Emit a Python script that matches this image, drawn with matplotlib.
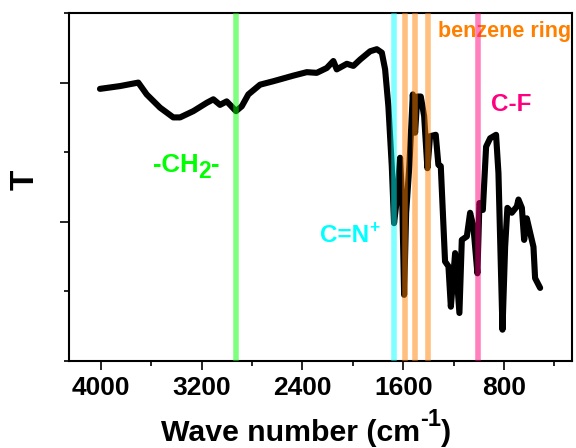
import matplotlib
matplotlib.use("Agg")
import matplotlib.pyplot as plt
from matplotlib.ticker import MultipleLocator
from matplotlib.transforms import offset_copy

plt.rcParams['font.family'] = ['Liberation Sans', 'DejaVu Sans']
plt.rcParams['font.weight'] = 'bold'
plt.rcParams['mathtext.fontset'] = 'custom'
plt.rcParams['mathtext.rm'] = 'Liberation Sans:bold'
plt.rcParams['mathtext.bf'] = 'Liberation Sans:bold'
plt.rcParams['mathtext.it'] = 'Liberation Sans:bold'
plt.rcParams['mathtext.default'] = 'bf'

# FTIR spectrum (wave number in cm^-1, transmittance in arbitrary units)
wavenumber = [4008, 3849, 3704, 3637, 3531, 3426, 3372, 3267, 3160, 3108,
              3055, 3002, 2975, 2928, 2882, 2830, 2737, 2631, 2473, 2366,
              2287, 2207, 2155, 2128, 2048, 1996, 1943, 1863, 1810, 1770,
              1744, 1718, 1691, 1673, 1651, 1625, 1607, 1593, 1577, 1551,
              1524, 1506, 1488, 1461, 1434, 1408, 1387, 1342, 1321, 1302,
              1268, 1241, 1222, 1188, 1154, 1135, 1095, 1069, 1043, 1011,
              995, 968, 942, 910, 863, 844, 812, 791, 773, 738,
              698, 685, 658, 640, 619, 592, 566, 553, 513]
transmittance = [59.1, 59.5, 60.0, 58.3, 56.4, 55.0, 55.0, 55.9, 57.1, 57.6,
                 56.8, 57.3, 56.8, 55.9, 56.6, 58.3, 59.7, 60.2, 61.0, 61.5,
                 61.4, 62.1, 63.1, 61.9, 62.7, 62.4, 63.3, 64.5, 64.8, 64.3,
                 61.9, 56.6, 48.0, 39.8, 43.2, 49.2, 42.2, 29.5, 41.3, 48.2,
                 58.3, 52.8, 58.0, 58.0, 55.2, 47.7, 52.3, 52.5, 48.2, 48.0,
                 34.3, 33.6, 27.8, 35.5, 26.9, 37.4, 37.9, 41.3, 39.3, 32.6,
                 42.7, 41.7, 50.8, 52.0, 52.5, 47.0, 24.5, 36.4, 42.0, 41.3,
                 42.2, 43.2, 42.0, 37.4, 40.5, 38.4, 36.4, 31.9, 30.5]

# Marker lines (cm^-1)
ch2_line = [2930]
cn_line = [1672]
benzene_lines = [1590, 1505, 1404]
cf_line = [1005]

xticks = [4000, 3200, 2400, 1600, 800]
xtick_labels = ['4000', '3200', '2400', '1600', '800']

fig = plt.figure(figsize=(5.76, 4.48), dpi=100)
ax = fig.add_axes([69/576, 1-361/448, (572-69)/576, (361-13)/448])

ax.plot(wavenumber, transmittance, color='black', lw=4.4,
        solid_joinstyle='round', solid_capstyle='round', zorder=2)

vl_kw = dict(lw=4.0, alpha=0.5, zorder=4)
for w in ch2_line:
    ax.axvline(w, color='#00FF00', **vl_kw)
for w in cn_line:
    ax.axvline(w, color='#00FFFF', **vl_kw)
for w in benzene_lines:
    ax.axvline(w, color='#FF8000', **vl_kw)
for w in cf_line:
    ax.axvline(w, color='#FF0080', **vl_kw)

ax.set_xlim(4254, 260)
ax.set_ylim(20, 70)
ax.set_xticks(xticks)
ax.set_xticklabels(xtick_labels, fontsize=19, fontweight='bold')
ax.xaxis.set_minor_locator(MultipleLocator(400))
ax.set_yticks([40, 60])
ax.yaxis.set_minor_locator(MultipleLocator(10))
ax.set_yticklabels([])
ax.tick_params(axis='both', which='major', direction='out', length=6.5, width=1.2, pad=4)
ax.tick_params(axis='both', which='minor', direction='out', length=3.5, width=1.2)
for s in ax.spines.values():
    s.set_linewidth(1.5)


def chain(pieces, x, y, transform, color='black', zorder=3):
    """Place text pieces one after another; each piece: (text, size, dy_points)."""
    fig.canvas.draw()
    renderer = fig.canvas.get_renderer()
    dx_px = 0.0
    texts = []
    for s, size, dy in pieces:
        tr = offset_copy(transform, fig=fig, x=dx_px, y=dy * fig.dpi / 72.0, units='dots')
        t = fig.text(x, y, s, transform=tr, fontsize=size, fontweight='bold',
                     color=color, ha='left', va='baseline', zorder=zorder)
        bb = t.get_window_extent(renderer)
        dx_px += bb.width
        texts.append(t)
    return texts


# -CH2- label
chain([('-CH', 18.5, 0), ('2', 16.5, -4.8), ('-', 18.5, 0)],
      3587, 47.2, ax.transData, color='#00FF00')
# C=N+ label
chain([('C=N', 17.5, 0), ('+', 12.5, 7.5)], 2260, 37.1, ax.transData, color='#00FFFF')

ax.text(1323, 66.6, 'benzene ring', color='#FF8000', fontsize=15.5,
        fontweight='bold', ha='left', va='baseline', zorder=3)
ax.text(740, 55.9, 'C-F', color='#FF0080', fontsize=17.5,
        fontweight='bold', ha='center', va='baseline', zorder=3)

# x-axis label with large superscript
chain([('Wave number (cm', 21.8, 0), ('-1', 17, 10.8), (')', 21.8, 0)],
      161/576, 1-441/448, fig.transFigure)

fig.text(25/576, 1-180/448, 'T', fontsize=24, fontweight='bold',
         rotation=90, ha='center', va='center')

fig.savefig('out.png', dpi=100)
